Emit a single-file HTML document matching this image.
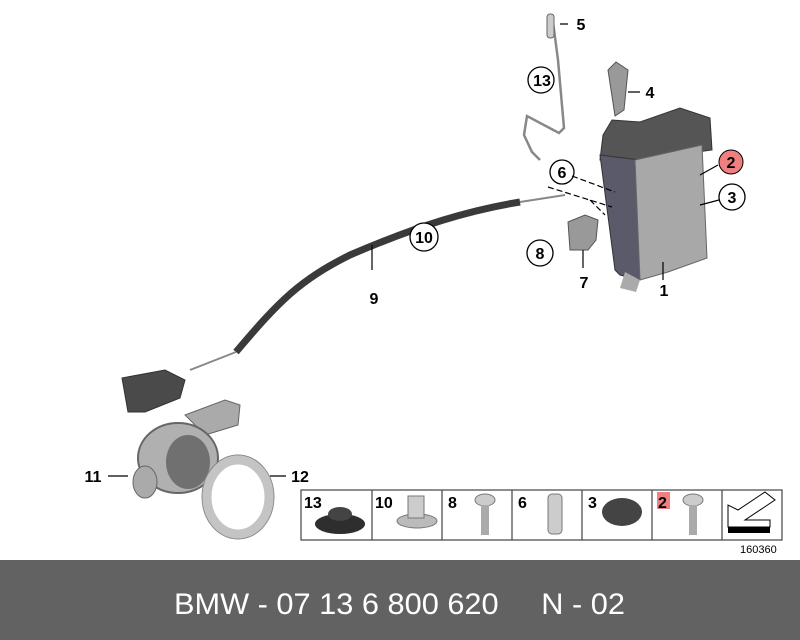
<!DOCTYPE html>
<html><head><style>
body{margin:0;width:800px;height:640px;background:#fff;overflow:hidden;font-family:"Liberation Sans",sans-serif}
svg{position:absolute;left:0;top:0}
</style></head><body>
<svg width="800" height="640" viewBox="0 0 800 640" font-family="Liberation Sans, sans-serif">
<rect x="0" y="560" width="800" height="80" fill="#626262"/>
<text x="174" y="614" fill="#fff" font-size="30" textLength="451" lengthAdjust="spacingAndGlyphs" xml:space="preserve">BMW - 07 13 6 800 620     N - 02</text>

<!-- rod 13/5 -->
<path d="M553 22 L558 60 L564 128 L559 133 L527 116 L524 135 L532 152 L540 160" fill="none" stroke="#888" stroke-width="2.5"/>
<rect x="547" y="14" width="7" height="24" rx="3" fill="#ccc" stroke="#666"/>
<!-- part 4 -->
<path d="M608 70 L616 62 L628 70 L624 110 L615 116 Z" fill="#999" stroke="#555"/>
<!-- lock box -->
<path d="M603 135 L612 120 L640 122 L680 108 L710 118 L712 150 L640 160 L600 160 Z" fill="#555" stroke="#333"/>
<path d="M600 155 L640 160 L640 280 L620 275 L615 270 Z" fill="#5a5a6a" stroke="#333"/>
<path d="M635 160 L702 145 L707 258 L668 272 L640 280 Z" fill="#a8a8a8" stroke="#666"/>
<path d="M625 272 L640 280 L636 292 L620 288 Z" fill="#aaa"/>
<!-- cable -->
<path d="M236 352 C280 300 300 280 350 255 C420 225 470 210 520 202" fill="none" stroke="#3a3a3a" stroke-width="7"/>
<path d="M520 202 L565 195 M190 370 L236 352" stroke="#888" stroke-width="2"/>
<!-- part 8/7 -->
<path d="M568 222 L585 215 L598 220 L596 240 L588 250 L570 250 Z" fill="#999" stroke="#555"/>
<!-- bracket -->
<path d="M122 378 L165 370 L185 380 L180 398 L145 412 L128 412 Z" fill="#4a4a4a" stroke="#333"/>
<!-- handle 11 -->
<path d="M185 415 L225 400 L240 405 L238 425 L205 435 Z" fill="#aaa" stroke="#666"/>
<ellipse cx="178" cy="458" rx="40" ry="35" fill="#b0b0b0" stroke="#666" stroke-width="2"/>
<ellipse cx="188" cy="462" rx="22" ry="27" fill="#707070"/>
<ellipse cx="145" cy="482" rx="12" ry="16" fill="#aaa" stroke="#666"/>
<!-- ring 12 -->
<ellipse cx="238" cy="497" rx="31" ry="37" fill="none" stroke="#c4c4c4" stroke-width="9"/>
<ellipse cx="238" cy="497" rx="36" ry="42" fill="none" stroke="#888" stroke-width="1"/>

<g fill="#fff" stroke="#000" stroke-width="1.3">
<circle cx="541" cy="80" r="13"/><circle cx="562" cy="172" r="12"/><circle cx="424" cy="237" r="14"/>
<circle cx="540" cy="253" r="13"/><circle cx="732" cy="197" r="13"/>
</g>
<g fill="none" stroke="#000" stroke-width="1.2">
<path d="M560 24 H568 M628 92 H640 M700 175 L718 165 M700 205 L719 200 M663 262 V280 M583 250 V268 M372 245 V270 M108 476 H128 M270 476 H286"/>
<path d="M572 176 L615 192 M548 187 L612 207 M590 200 L605 215" stroke-dasharray="6 3"/>
</g>
<circle cx="731" cy="162" r="12" fill="#f08080" stroke="#000"/>
<g font-size="16" font-weight="bold" text-anchor="middle" fill="#000">
<text x="581" y="30">5</text><text x="542" y="86">13</text><text x="650" y="98">4</text>
<text x="731" y="168">2</text><text x="732" y="203">3</text><text x="562" y="178">6</text>
<text x="424" y="243">10</text><text x="540" y="259">8</text><text x="584" y="288">7</text>
<text x="664" y="296">1</text><text x="374" y="304">9</text><text x="93" y="482">11</text><text x="300" y="482">12</text>
</g>

<!-- parts table -->
<g stroke="#444" fill="none" stroke-width="1.2">
<rect x="301" y="490" width="481" height="50"/>
<path d="M372 490V540M442 490V540M512 490V540M582 490V540M652 490V540M722 490V540"/>
</g>
<rect x="657" y="492" width="13" height="17" fill="#f08080"/>
<g font-size="16" font-weight="bold" fill="#000">
<text x="304" y="508">13</text><text x="375" y="508">10</text><text x="448" y="508">8</text>
<text x="518" y="508">6</text><text x="588" y="508">3</text><text x="658" y="508">2</text>
</g>
<ellipse cx="340" cy="524" rx="25" ry="10" fill="#2e2e2e"/><ellipse cx="340" cy="514" rx="12" ry="7" fill="#444"/>
<ellipse cx="417" cy="521" rx="20" ry="7" fill="#bbb" stroke="#777"/><rect x="408" y="496" width="16" height="22" fill="#ccc" stroke="#777"/>
<ellipse cx="485" cy="500" rx="10" ry="6" fill="#ccc" stroke="#777"/><rect x="481" y="505" width="8" height="30" fill="#aaa"/>
<rect x="548" y="494" width="14" height="40" rx="4" fill="#ccc" stroke="#777"/>
<ellipse cx="622" cy="512" rx="20" ry="14" fill="#444"/>
<ellipse cx="693" cy="500" rx="10" ry="6" fill="#ccc" stroke="#777"/><rect x="689" y="505" width="8" height="30" fill="#aaa"/>
<path d="M728 527 L770 527 L770 520 L745 520 L775 500 L765 492 L738 510 L728 505 Z" fill="#fff" stroke="#000"/>
<rect x="728" y="527" width="42" height="6" fill="#000"/>
<text x="740" y="553" font-size="11" fill="#000">160360</text>
</svg>
</body></html>
